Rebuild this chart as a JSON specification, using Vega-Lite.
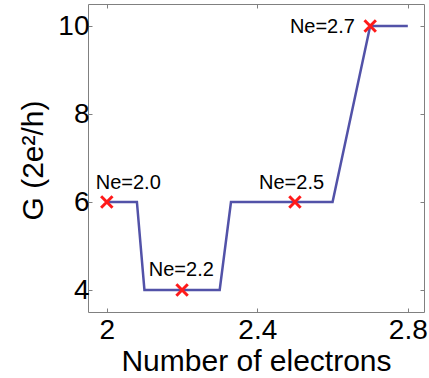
{
  "$schema": "https://vega.github.io/schema/vega-lite/v6.json",
  "width": 336,
  "height": 308,
  "autosize": "none",
  "padding": {"left": 88, "top": 4, "right": 5, "bottom": 66},
  "background": "white",
  "config": {
    "view": {"stroke": "#808080", "strokeWidth": 1},
    "font": "Liberation Sans",
    "axis": {
      "domain": false,
      "grid": false,
      "tickColor": "#808080",
      "tickSize": -4,
      "labelFont": "Liberation Sans",
      "titleFont": "Liberation Sans",
      "labelColor": "black",
      "titleColor": "black",
      "labelFontWeight": "normal",
      "titleFontWeight": "normal"
    }
  },
  "datasets": {
    "curve": [
      {"x": 2.0, "g": 6},
      {"x": 2.08, "g": 6},
      {"x": 2.1, "g": 4},
      {"x": 2.3, "g": 4},
      {"x": 2.33, "g": 6},
      {"x": 2.6, "g": 6},
      {"x": 2.7, "g": 10},
      {"x": 2.8, "g": 10}
    ],
    "marks": [
      {"x": 2.0, "g": 6, "label": "Ne=2.0", "lx": 2.057, "ly": 6.3},
      {"x": 2.2, "g": 4, "label": "Ne=2.2", "lx": 2.198, "ly": 4.32},
      {"x": 2.5, "g": 6, "label": "Ne=2.5", "lx": 2.491, "ly": 6.3},
      {"x": 2.7, "g": 10, "label": "Ne=2.7", "lx": 2.573, "ly": 9.84}
    ]
  },
  "layer": [
    {
      "data": {"name": "curve"},
      "mark": {"type": "line", "color": "#5252a8", "strokeWidth": 2.5},
      "encoding": {
        "x": {
          "field": "x", "type": "quantitative",
          "scale": {"domain": [1.95, 2.843], "nice": false, "zero": false},
          "axis": {
            "orient": "bottom",
            "values": [2, 2.4, 2.8],
            "format": "~g",
            "labelFontSize": 28,
            "labelPadding": 30,
            "labelBaseline": "alphabetic",
            "labelFlush": false,
            "title": "Number of electrons",
            "titleFontSize": 30,
            "titleBaseline": "alphabetic",
            "titleY": 58
          }
        },
        "y": {
          "field": "g", "type": "quantitative",
          "scale": {"domain": [3.5, 10.5], "nice": false, "zero": false},
          "axis": {
            "orient": "left",
            "values": [4, 6, 8, 10],
            "labelFontSize": 28,
            "labelPadding": 3,
            "labelBaseline": "middle",
            "labelFlush": false,
            "title": "G (2e²/h)",
            "titleFontSize": 30,
            "titleAngle": 270,
            "titleBaseline": "alphabetic",
            "titleAlign": "center",
            "titleX": -46,
            "titleY": 156
          }
        }
      }
    },
    {
      "data": {"name": "marks"},
      "mark": {
        "type": "point",
        "shape": "M-1,-1L1,1M-1,1L1,-1",
        "filled": false,
        "stroke": "#ff1a1a",
        "strokeWidth": 3,
        "size": 130,
        "opacity": 1
      },
      "encoding": {
        "x": {
          "field": "x", "type": "quantitative",
          "axis": {"orient": "top", "values": [2, 2.4, 2.8], "labels": false, "title": null}
        },
        "y": {
          "field": "g", "type": "quantitative",
          "axis": {"orient": "right", "values": [4, 6, 8, 10], "labels": false, "title": null}
        }
      }
    },
    {
      "data": {"name": "marks"},
      "mark": {"type": "text", "fontSize": 20, "font": "Liberation Sans", "align": "center", "baseline": "alphabetic", "color": "black"},
      "encoding": {
        "x": {"field": "lx", "type": "quantitative", "axis": null},
        "y": {"field": "ly", "type": "quantitative", "axis": null},
        "text": {"field": "label"}
      }
    }
  ]
}
